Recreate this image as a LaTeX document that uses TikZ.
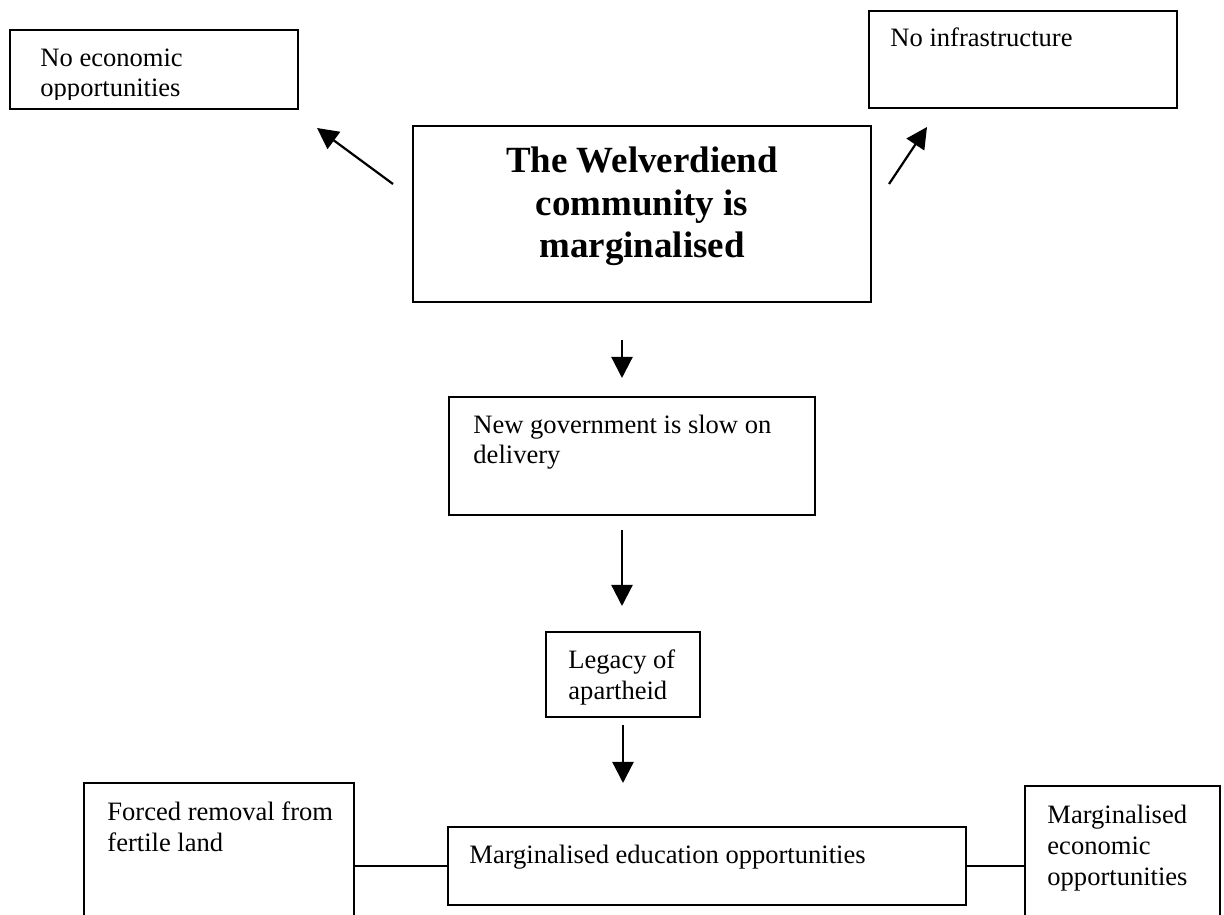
\documentclass[tikz,border=0pt]{standalone}
\usepackage{fontspec}
\setmainfont{Liberation Serif}
\usetikzlibrary{arrows.meta,fit,positioning}
\tikzset{
    box/.style={draw, rectangle, inner sep=0pt, line width=0.8pt},
    txt/.style={anchor=base west, inner sep=0pt, align=left, font=\fontsize{12}{14}\selectfont},
    head/.style={anchor=base, inner sep=0pt, align=center, font=\bfseries\fontsize{16.7}{19.4}\selectfont},
    cause/.style={-{Triangle[length=9.5pt,width=9.5pt]}, line width=1pt},
    link/.style={-, line width=0.6pt}
}

\begin{document}
\begin{tikzpicture}[x=0.452pt, y=-0.452pt]
  \clip (0,0) rectangle (1224,915);
  \fill[white] (0,0) rectangle (1224,915);

  % Draw the boxes
  \node[box, fit={(10,30) (298,109)}] (noecon) {};
  \node[box, fit={(869,11) (1177,108)}] (noinfra) {};
  \node[box, fit={(413,126) (871,302)}] (title) {};
  \node[box, fit={(449,397) (815,515)}] (gov) {};
  \node[box, fit={(546,632) (700,717)}] (legacy) {};
  \node[box, fit={(84,783) (354,949)}] (forced) {};
  \node[box, fit={(448,827) (966,905)}] (edu) {};
  \node[box, fit={(1025,786) (1220,946)}] (margecon) {};

  % Draw the texts (placed at the baseline of the last line)
  \begin{scope}
    \clip (10,30) rectangle (298,100);
    \node[txt] (noecon-txt) at (40,97) {No economic\\opportunities};
  \end{scope}
  \node[txt] (noinfra-txt) at (890,47) {No infrastructure};
  \node[head] (title-txt) at (642,258) {The Welverdiend\\community is\\marginalised};
  \node[txt] (gov-txt) at (473,464) {New government is slow on\\delivery};
  \node[txt] (legacy-txt) at (568,699) {Legacy of\\apartheid};
  \node[txt] (forced-txt) at (107,851) {Forced removal from\\fertile land};
  \node[txt] (edu-txt) at (469,863) {Marginalised education opportunities};
  \node[txt] (margecon-txt) at (1047,885) {Marginalised\\economic\\opportunities};

  % Draw the arrows
  \coordinate (left-tail) at (393,184);
  \coordinate (left-tip) at (317,128);
  \coordinate (right-tail) at (889,184);
  \coordinate (right-tip) at (927,127);
  \coordinate (down1-tail) at (622,340);
  \coordinate (down1-tip) at (622,378);
  \coordinate (down2-tail) at (622,530);
  \coordinate (down2-tip) at (622,606);
  \coordinate (down3-tail) at (623,725);
  \coordinate (down3-tip) at (623,783);
  \draw[cause] (left-tail) -- (left-tip);
  \draw[cause] (right-tail) -- (right-tip);
  \draw[cause] (down1-tail) -- (down1-tip);
  \draw[cause] (down2-tail) -- (down2-tip);
  \draw[cause] (down3-tail) -- (down3-tip);
  \draw[link] (forced) -- (edu);
  \draw[link] (edu) -- (margecon);
\end{tikzpicture}
\end{document}
